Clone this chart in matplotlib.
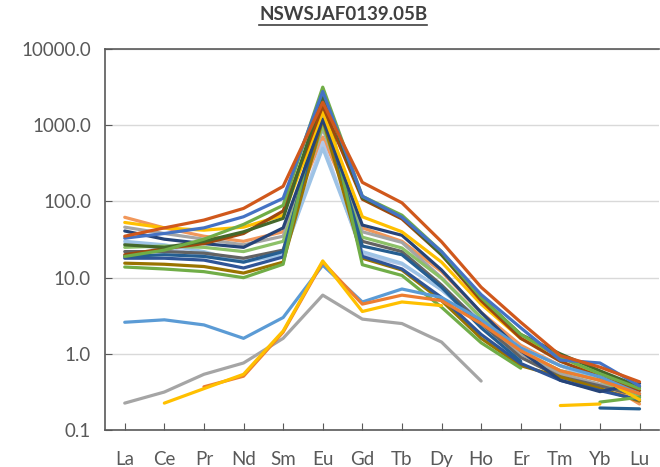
import numpy as np
import matplotlib
matplotlib.use("Agg")
import matplotlib.pyplot as plt
from matplotlib.lines import Line2D

nan = np.nan

title = "NSWSJAF0139.05B"
elements = ["La", "Ce", "Pr", "Nd", "Sm", "Eu", "Gd", "Tb", "Dy", "Ho", "Er", "Tm", "Yb", "Lu"]
y_ticks = [0.1, 1.0, 10.0, 100.0, 1000.0, 10000.0]

# chondrite-normalised REE, one list per sample
s_rust = [35, 45, 57, 81, 158, 2000, 178, 96, 29.6, 7.5, 2.6, 0.95, 0.67, 0.43]
s_blue = [33, 38, 45, 63, 110, 2770, 117, 62, 22, 6.0, 2.2, 0.83, 0.76, 0.38]
s_green = [19, 23, 32, 50, 89, 3160, 117, 66, 22, 5.5, 1.8, 0.9, 0.55, 0.35]
s_dkred = [20, 24, 28, 38, 75, 1800, 107, 59, 20, 5.0, 1.6, 0.8, 0.5, 0.33]
s_gold = [53, 45, 42, 46, 66, 1500, 63, 40, 16, 4.5, 1.6, 0.95, 0.5, 0.25]
s_ltorange = [62, 45, 35, 30, 40, 700, 45, 30, 12, 3.5, 1.3, 0.7, 0.45, 0.22]
s_navy = [41, 32, 28, 25, 45, 1200, 49, 36, 12.6, 3.5, 1.1, 0.45, 0.32, 0.41]
s_gray = [46, 38, 32, 27, 35, 900, 40, 29, 10, 3.0, 1.0, 0.55, 0.4, 0.3]
s_ltgreen = [25, 26, 25, 22, 30, 1000, 34, 24.5, 9.8, 3.0, 1.1, 0.6, 0.45, 0.27]
s_dkgray = [22, 22, 21, 18, 23, 1100, 30, 22, 8.0, 2.5, 0.9, 0.5, 0.38, 0.28]
s_skyblue = [30, 27, 22, 16, 20, 500, 22, 15.5, 6.9, 2.5, 1.0, 0.6, 0.5, 0.3]
s_paleblue = [28, 24, 20, 17, 19, 600, 20, 15, 7.0, 2.8, 1.2, 0.7, 0.45, 0.28]
s_royal = [18, 18, 17, 13.4, 18.7, 2300, 19, 13, 5.5, 1.8, 0.75, 0.45, 0.33, 0.25]
s_olive = [15.5, 15, 14, 11.5, 16, 1200, 18, 12.6, 5.0, 1.6, 0.7, 0.5, 0.35, 0.24]
s_lowgreen = [13.8, 13, 12, 10, 15, 3000, 14.8, 10.7, 4.1, 1.4, 0.65, nan, 0.233, 0.27]
s_dkgreen = [27, 25, 30, 40, 60, 2500, 112, 63, 20, 5.5, 1.8, 1.0, 0.6, 0.37]
s_steel = [19, 20, 19, 16, 22, 1600, 26, 20, 7.5, 2.2, 0.8, nan, 0.195, 0.19]
s_lowblue = [2.6, 2.8, 2.4, 1.6, 3.0, 14.6, 4.8, 7.1, 5.5, 2.8, 1.2, 0.7, 0.5, 0.3]
s_loworange = [nan, nan, 0.37, 0.51, 1.93, 16, 4.5, 5.9, 5.0, 2.5, 1.1, 0.6, 0.45, 0.3]
s_lowgold = [nan, 0.226, 0.35, 0.54, 2.0, 16.6, 3.6, 4.8, 4.3, nan, nan, 0.21, 0.22, nan]
s_lowgray = [0.226, 0.316, 0.54, 0.76, 1.6, 5.9, 2.86, 2.5, 1.43, 0.44, nan, nan, nan, nan]

series = [
    (s_ltorange, "#F1975A"),
    (s_paleblue, "#B4C7E7"),
    (s_skyblue, "#9DC3E6"),
    (s_gray, "#A5A5A5"),
    (s_dkgray, "#636363"),
    (s_ltgreen, "#8CC168"),
    (s_olive, "#997300"),
    (s_royal, "#2F5597"),
    (s_steel, "#255E91"),
    (s_lowgreen, "#70AD47"),
    (s_navy, "#264478"),
    (s_gold, "#FFC000"),
    (s_dkred, "#9E480E"),
    (s_dkgreen, "#43682B"),
    (s_green, "#70AD47"),
    (s_blue, "#4472C4"),
    (s_rust, "#D0581C"),
    (s_lowgray, "#A5A5A5"),
    (s_lowblue, "#5B9BD5"),
    (s_loworange, "#ED7D31"),
    (s_lowgold, "#FFC000"),
]

plt.rcParams["font.family"] = ["Lato", "DejaVu Sans"]
text_color = "#595959"

fig = plt.figure(figsize=(6.6, 4.67), dpi=100)
ax = fig.add_axes([0.159, 0.079, 0.84, 0.816])

x = np.arange(len(elements))
for vals, col in series:
    ax.plot(x, vals, color=col, lw=2.3, solid_joinstyle="round", solid_capstyle="round")

ax.set_yscale("log")
ax.set_ylim(0.1, 10000)
ax.set_xlim(-0.5, len(elements) - 0.5)
ax.set_yticks(y_ticks)
ax.set_yticklabels([f"{v:.1f}" for v in y_ticks])
ax.minorticks_off()
ax.set_xticks(x)
ax.set_xticklabels(elements)
ax.yaxis.grid(True, color="#D9D9D9", lw=1)
ax.set_axisbelow(True)

ax.spines["right"].set_visible(False)
for side in ["left", "bottom", "top"]:
    ax.spines[side].set_color("#595959")
    ax.spines[side].set_linewidth(1.2)

ax.tick_params(axis="y", direction="in", length=5, color="#595959", labelsize=13.5,
               labelcolor=text_color, pad=10)
ax.tick_params(axis="x", direction="in", length=5, color="#595959", labelsize=13.5,
               labelcolor=text_color, pad=15)

t = fig.text(0.52, 0.968, title, ha="center", va="center", fontsize=13.5,
             fontweight="bold", color="#404040")
fig.canvas.draw()
bb = t.get_window_extent().transformed(fig.transFigure.inverted())
fig.add_artist(Line2D([bb.x0, bb.x1], [bb.y0 - 0.004, bb.y0 - 0.004],
                      transform=fig.transFigure, color="#404040", lw=1.2))

fig.savefig("out.png", dpi=100)
